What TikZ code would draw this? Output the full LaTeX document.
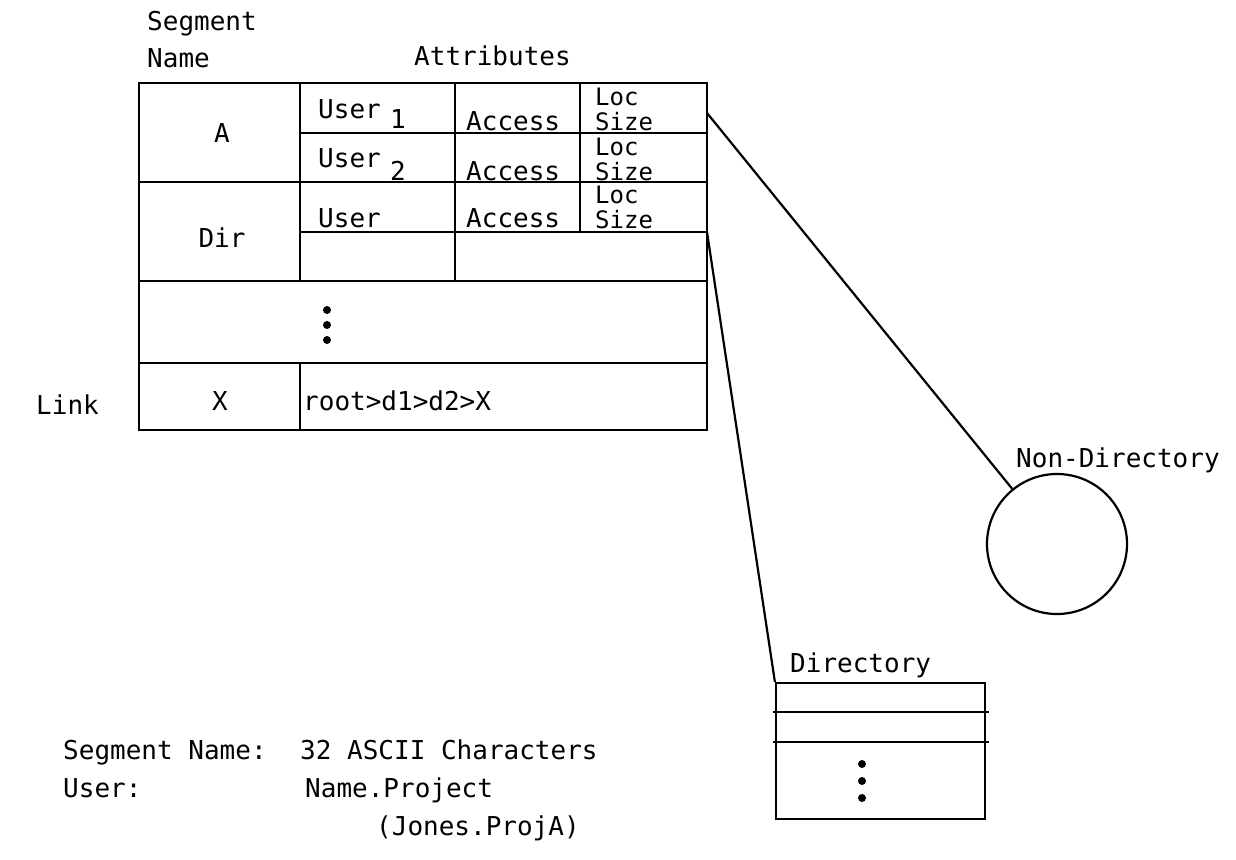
\documentclass[tikz,border=0pt]{standalone}
\usepackage{fontspec}
\newfontfamily\plt{DejaVu Sans Mono}
\begin{document}
\begin{tikzpicture}[x=1pt,y=-1pt,
  txt/.style={font=\plt\fontsize{26}{30}\selectfont, inner sep=0pt, anchor=base west},
  stxt/.style={txt, font=\plt\fontsize{24}{28}\selectfont},
  ctxt/.style={txt, anchor=base},
  grid/.style={line width=2.8pt},
  conn/.style={line width=2.2pt},
  dotm/.style={circle, fill, inner sep=0pt, minimum size=8pt}]
\useasboundingbox (0,0) rectangle (1236,859);

% table
\node[draw, grid, minimum width=568pt, minimum height=347pt, inner sep=0pt] (tbl) at (423,256.5) {};
\draw[grid] (139,182) -- (707,182);
\draw[grid] (139,281) -- (707,281);
\draw[grid] (139,363) -- (707,363);
\draw[grid] (300,133) -- (707,133);
\draw[grid] (300,232) -- (707,232);
\draw[grid] (300,83) -- (300,281);
\draw[grid] (300,363) -- (300,430);
\draw[grid] (455,83) -- (455,281);
\draw[grid] (580,83) -- (580,232);

% headings
\node[txt] (hseg) at (147,31) {Segment};
\node[txt] (hname) at (147,67) {Name};
\node[txt] (hattr) at (414,66) {Attributes};
\node[txt] (link) at (36,414) {Link};

% row labels
\node[ctxt] (ra) at (222,142) {A};
\node[ctxt] (rdir) at (222,247) {Dir};
\node[ctxt] (rx) at (220,410) {X};
\node[txt] (path) at (303,410) {root>d1>d2>X};

% row A, user 1
\node[txt] (u1) at (318,118) {User};
\node[txt] (u1s) at (390,128) {1};
\node[txt] (a1t) at (466,130) {Access};
\node[stxt] (l1) at (595,105) {Loc};
\node[stxt] (s1) at (595,130) {Size};
% row A, user 2
\node[txt] (u2) at (318,167) {User};
\node[txt] (u2s) at (390,180) {2};
\node[txt] (a2t) at (466,180) {Access};
\node[stxt] (l2) at (595,155) {Loc};
\node[stxt] (s2) at (595,180) {Size};
% row Dir
\node[txt] (u3) at (318,227) {User};
\node[txt] (a3t) at (466,227) {Access};
\node[stxt] (l3) at (595,203) {Loc};
\node[stxt] (s3) at (595,228) {Size};

% dots in table
\node[dotm] (td1) at (327,310) {};
\node[dotm] (td2) at (327,325) {};
\node[dotm] (td3) at (327,340) {};

% non-directory
\node[circle, draw, conn, minimum size=140pt, inner sep=0pt] (nd) at (1057,544) {};
\node[txt] (ndl) at (1016,467) {Non-Directory};
\coordinate (c1) at (707,113);
\draw[conn] (c1) -- (nd);

% directory
\node[draw, conn, minimum width=209pt, minimum height=136pt, inner sep=0pt] (dir) at (880.5,751) {};
\node[txt] (dirl) at (790,672) {Directory};
\draw[conn] (773,712) -- (989,712);
\draw[conn] (773,742) -- (989,742);
\node[dotm] (dd1) at (862,764) {};
\node[dotm] (dd2) at (862,781) {};
\node[dotm] (dd3) at (862,798) {};
\coordinate (c2) at (707,232);
\draw[conn] (c2) -- (dir.north west);

% legend
\node[txt] (lg1) at (63,759) {Segment Name:};
\node[txt] (lg2) at (300,759) {32 ASCII Characters};
\node[txt] (lg3) at (63,797) {User:};
\node[txt] (lg4) at (305,797) {Name.Project};
\node[txt] (lg5) at (376,835) {(Jones.ProjA)};
\end{tikzpicture}
\end{document}
